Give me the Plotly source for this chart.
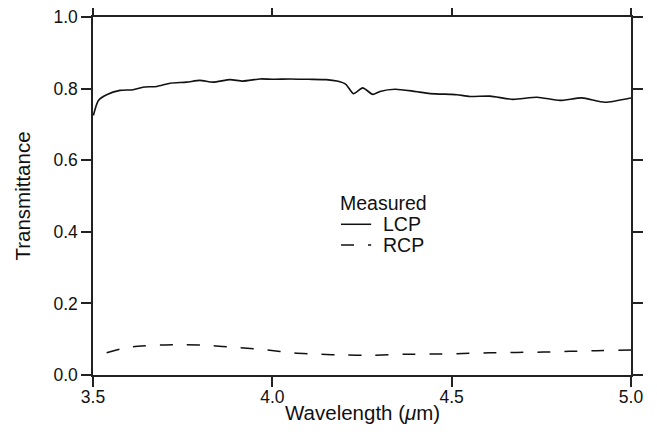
import plotly.graph_objects as go

# LCP measured transmittance
lcp_wl = [3.501, 3.515, 3.538, 3.575, 3.612, 3.639, 3.678, 3.715, 3.761, 3.798, 3.835,
          3.882, 3.918, 3.966, 4.00, 4.05, 4.10, 4.15, 4.18, 4.205, 4.226, 4.252, 4.280,
          4.300, 4.342, 4.392, 4.440, 4.495, 4.515, 4.551, 4.607, 4.671, 4.738, 4.802,
          4.863, 4.927, 5.0]
lcp_t = [0.725, 0.767, 0.783, 0.795, 0.797, 0.804, 0.806, 0.815, 0.818, 0.823, 0.818,
         0.825, 0.821, 0.827, 0.826, 0.827, 0.826, 0.825, 0.821, 0.812, 0.786, 0.802, 0.784,
         0.792, 0.798, 0.793, 0.786, 0.784, 0.783, 0.778, 0.779, 0.770, 0.776, 0.767,
         0.774, 0.762, 0.774]

# RCP measured transmittance
rcp_wl = [3.538, 3.575, 3.612, 3.687, 3.751, 3.835, 3.910, 3.985, 4.058, 4.13, 4.20,
          4.27, 4.375, 4.448, 4.531, 4.607, 4.681, 4.755, 4.83, 4.904, 5.0]
rcp_t = [0.062, 0.072, 0.079, 0.084, 0.085, 0.082, 0.076, 0.070, 0.062, 0.058, 0.056,
         0.055, 0.058, 0.0586, 0.060, 0.062, 0.063, 0.064, 0.066, 0.068, 0.070]

x_ticks = [3.5, 4.0, 4.5, 5.0]
x_tick_labels = ["3.5", "4.0", "4.5", "5.0"]
y_ticks = [0.0, 0.2, 0.4, 0.6, 0.8, 1.0]
y_tick_labels = ["0.0", "0.2", "0.4", "0.6", "0.8", "1.0"]

x_title = "Wavelength (<i>μ</i>m)"
y_title = "Transmittance"
legend_title = "Measured"
series_names = ["LCP", "RCP"]

font_family = "Liberation Sans, Arial, Helvetica, sans-serif"
ink = "#111111"
dash_pattern = "13px,14px"

fig = go.Figure()
fig.add_trace(go.Scatter(x=lcp_wl, y=lcp_t, mode="lines", name=series_names[0],
                         showlegend=False,
                         line=dict(color=ink, width=1.6, shape="spline", smoothing=0.6)))
fig.add_trace(go.Scatter(x=rcp_wl, y=rcp_t, mode="lines", name=series_names[1],
                         showlegend=False,
                         line=dict(color=ink, width=1.5, dash=dash_pattern,
                                   shape="spline", smoothing=0.6)))

axis_common = dict(showgrid=False, zeroline=False, showline=True, linecolor="#222222",
                   linewidth=1.5, mirror="ticks", ticks="outside", ticklen=10,
                   tickwidth=1.5, tickcolor="#222222", automargin=False,
                   ticklabeloverflow="allow",
                   tickfont=dict(family=font_family, size=17.5, color=ink))

fig.update_xaxes(range=[3.5, 5.0], tickvals=x_ticks, ticktext=x_tick_labels,
                 **axis_common)
try:
    fig.update_xaxes(ticklabelstandoff=-5)
except Exception:
    pass
fig.update_yaxes(range=[0.0, 1.0], tickvals=y_ticks, ticktext=y_tick_labels,
                 title=dict(text=y_title, standoff=17,
                            font=dict(family=font_family, size=20.5, color=ink)),
                 **axis_common)

# x-axis title as an annotation under the axis
fig.add_annotation(x=0.5, y=-0.106, xref="paper", yref="paper", text=x_title,
                   showarrow=False, xanchor="center", yanchor="middle",
                   font=dict(family=font_family, size=20.5, color=ink))

# Legend drawn in the plot area (paper coordinates)
leg_x0, leg_x1, txt_x = 0.461, 0.517, 0.535
leg_y = [0.421, 0.363]
fig.add_annotation(x=0.456, y=0.48, xref="paper", yref="paper", text=legend_title,
                   showarrow=False, xanchor="left", yanchor="middle",
                   font=dict(family=font_family, size=19.5, color=ink))
for name, yy, dsh in zip(series_names, leg_y, ["solid", dash_pattern]):
    fig.add_shape(type="line", xref="paper", yref="paper", x0=leg_x0, x1=leg_x1,
                  y0=yy, y1=yy, line=dict(color=ink, width=1.5, dash=dsh))
    fig.add_annotation(x=txt_x, y=yy, xref="paper", yref="paper", text=name,
                       showarrow=False, xanchor="left", yanchor="middle",
                       font=dict(family=font_family, size=19.5, color=ink))

fig.update_layout(
    width=649, height=428,
    margin=dict(l=85, r=26, t=8.5, b=61, pad=0),
    paper_bgcolor="white", plot_bgcolor="white",
    font=dict(family=font_family, size=17.5, color=ink),
    showlegend=False,
)

fig.write_html("out.html")
